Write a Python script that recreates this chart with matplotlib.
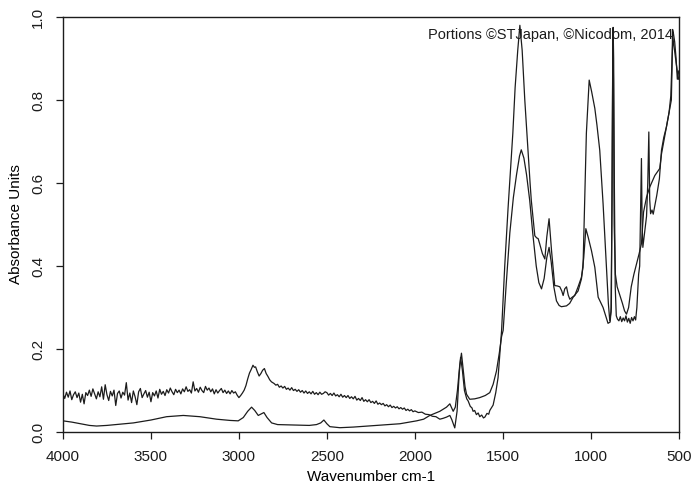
import numpy as np
import matplotlib
matplotlib.use('Agg')
import matplotlib.pyplot as plt

# values: (wavenumber cm-1, absorbance)
trace_noisy = [
    (4000, 0.092), (3990, 0.081), (3980, 0.096), (3970, 0.084), (3960, 0.099), (3950, 0.078),
    (3940, 0.090), (3930, 0.097), (3920, 0.083), (3910, 0.094), (3900, 0.072), (3890, 0.091),
    (3880, 0.068), (3870, 0.095), (3860, 0.088), (3850, 0.101), (3840, 0.086), (3830, 0.104),
    (3820, 0.092), (3810, 0.080), (3800, 0.097), (3790, 0.085), (3780, 0.109), (3770, 0.079),
    (3760, 0.114), (3750, 0.090), (3740, 0.076), (3730, 0.098), (3720, 0.087), (3710, 0.101),
    (3700, 0.064), (3690, 0.093), (3680, 0.099), (3670, 0.082), (3660, 0.096), (3650, 0.089),
    (3640, 0.119), (3630, 0.077), (3620, 0.094), (3610, 0.071), (3600, 0.099), (3590, 0.085),
    (3580, 0.066), (3570, 0.097), (3560, 0.105), (3550, 0.083), (3540, 0.092), (3530, 0.100),
    (3520, 0.084), (3510, 0.096), (3500, 0.073), (3490, 0.095), (3480, 0.087), (3470, 0.099),
    (3460, 0.082), (3450, 0.103), (3440, 0.091), (3430, 0.098), (3420, 0.088), (3410, 0.102),
    (3400, 0.094), (3390, 0.106), (3380, 0.097), (3370, 0.090), (3360, 0.103), (3350, 0.095),
    (3340, 0.101), (3330, 0.092), (3320, 0.104), (3310, 0.097), (3300, 0.109), (3290, 0.098),
    (3280, 0.102), (3270, 0.094), (3260, 0.121), (3250, 0.099), (3240, 0.105), (3230, 0.096),
    (3220, 0.108), (3210, 0.100), (3200, 0.095), (3190, 0.110), (3180, 0.101), (3170, 0.106),
    (3160, 0.097), (3150, 0.104), (3140, 0.092), (3130, 0.102), (3120, 0.094), (3110, 0.100),
    (3100, 0.105), (3090, 0.095), (3080, 0.101), (3070, 0.093), (3060, 0.099), (3050, 0.092),
    (3040, 0.100), (3030, 0.094), (3020, 0.097), (3010, 0.089), (3000, 0.083), (2990, 0.088),
    (2980, 0.094), (2970, 0.101), (2960, 0.112), (2950, 0.128), (2940, 0.142), (2930, 0.151),
    (2920, 0.161), (2912, 0.156), (2905, 0.157), (2895, 0.145), (2885, 0.135), (2875, 0.141),
    (2865, 0.149), (2855, 0.153), (2845, 0.141), (2835, 0.134), (2825, 0.126), (2815, 0.121),
    (2800, 0.117), (2790, 0.113), (2780, 0.115), (2770, 0.108), (2760, 0.111), (2750, 0.106),
    (2740, 0.110), (2730, 0.103), (2720, 0.106), (2710, 0.101), (2700, 0.107), (2690, 0.100),
    (2680, 0.103), (2670, 0.098), (2660, 0.102), (2650, 0.096), (2640, 0.100), (2630, 0.094),
    (2620, 0.099), (2610, 0.093), (2600, 0.097), (2590, 0.092), (2580, 0.098), (2570, 0.091),
    (2560, 0.095), (2550, 0.090), (2540, 0.096), (2530, 0.091), (2520, 0.093), (2510, 0.097),
    (2500, 0.095), (2490, 0.089), (2480, 0.093), (2470, 0.088), (2460, 0.094), (2450, 0.087),
    (2440, 0.090), (2430, 0.085), (2420, 0.091), (2410, 0.084), (2400, 0.088), (2390, 0.083),
    (2380, 0.088), (2370, 0.081), (2360, 0.085), (2350, 0.080), (2340, 0.086), (2330, 0.077),
    (2320, 0.081), (2310, 0.076), (2300, 0.083), (2290, 0.074), (2280, 0.078), (2270, 0.073),
    (2260, 0.078), (2250, 0.071), (2240, 0.074), (2230, 0.069), (2220, 0.075), (2210, 0.067),
    (2200, 0.070), (2190, 0.066), (2180, 0.069), (2170, 0.063), (2160, 0.066), (2150, 0.061),
    (2140, 0.065), (2130, 0.059), (2120, 0.062), (2110, 0.058), (2100, 0.061), (2090, 0.056),
    (2080, 0.059), (2070, 0.055), (2060, 0.058), (2050, 0.052), (2040, 0.055), (2030, 0.051),
    (2020, 0.054), (2010, 0.049), (2000, 0.051), (1980, 0.047), (1960, 0.048), (1940, 0.043),
    (1920, 0.042), (1900, 0.038), (1880, 0.037), (1858, 0.031), (1840, 0.033), (1820, 0.036),
    (1801, 0.040), (1790, 0.030), (1773, 0.010), (1760, 0.050), (1748, 0.140), (1740, 0.180),
    (1730, 0.150), (1718, 0.100), (1705, 0.080), (1697, 0.075), (1685, 0.062), (1675, 0.058),
    (1669, 0.050), (1660, 0.052), (1650, 0.042), (1640, 0.046), (1631, 0.037), (1620, 0.041),
    (1610, 0.034), (1602, 0.036), (1590, 0.045), (1580, 0.043), (1574, 0.052), (1565, 0.058),
    (1555, 0.065), (1540, 0.095), (1527, 0.131), (1507, 0.244), (1489, 0.400), (1470, 0.540),
    (1455, 0.640), (1443, 0.720), (1430, 0.830), (1415, 0.920), (1403, 0.980), (1390, 0.920),
    (1375, 0.800), (1360, 0.700), (1345, 0.600), (1338, 0.558), (1318, 0.473), (1308, 0.468),
    (1299, 0.466), (1290, 0.453), (1275, 0.430), (1261, 0.417), (1250, 0.470), (1237, 0.514),
    (1223, 0.437), (1205, 0.353), (1190, 0.352), (1176, 0.350), (1165, 0.340), (1157, 0.329),
    (1148, 0.345), (1138, 0.350), (1128, 0.330), (1119, 0.320), (1105, 0.325), (1091, 0.329),
    (1072, 0.350), (1053, 0.373), (1044, 0.397), (1035, 0.550), (1025, 0.720), (1009, 0.848),
    (995, 0.820), (977, 0.780), (965, 0.740), (949, 0.679), (930, 0.550), (911, 0.397),
    (900, 0.310), (892, 0.268), (885, 0.290), (879, 0.550), (875, 0.930), (873, 0.975),
    (870, 0.900), (866, 0.600), (861, 0.350), (855, 0.280), (848, 0.272), (840, 0.268),
    (832, 0.278), (824, 0.266), (816, 0.275), (808, 0.268), (800, 0.280), (792, 0.265),
    (784, 0.274), (776, 0.262), (768, 0.276), (760, 0.268), (752, 0.278), (745, 0.270),
    (738, 0.300), (733, 0.340), (728, 0.380), (722, 0.400), (716, 0.550), (712, 0.659),
    (708, 0.500), (704, 0.445), (695, 0.478), (683, 0.520), (676, 0.600), (670, 0.723),
    (665, 0.560), (660, 0.526), (652, 0.535), (645, 0.525), (636, 0.545), (625, 0.570),
    (610, 0.610), (598, 0.679), (585, 0.710), (570, 0.735), (555, 0.770), (542, 0.800),
    (538, 0.880), (535, 0.970), (530, 0.960), (523, 0.940), (515, 0.900), (508, 0.850),
    (500, 0.870),
]

trace_smooth = [
    (4000, 0.027), (3950, 0.024), (3900, 0.020), (3850, 0.016), (3809, 0.0145), (3750, 0.016),
    (3700, 0.018), (3600, 0.022), (3500, 0.029), (3411, 0.037), (3316, 0.040), (3222, 0.037),
    (3127, 0.031), (3050, 0.028), (3004, 0.027), (2975, 0.035), (2950, 0.050), (2928, 0.060),
    (2910, 0.052), (2890, 0.040), (2872, 0.044), (2858, 0.047), (2840, 0.035), (2814, 0.022),
    (2780, 0.018), (2700, 0.017), (2600, 0.016), (2559, 0.018), (2535, 0.022), (2517, 0.029),
    (2500, 0.020), (2483, 0.013), (2426, 0.0105), (2350, 0.012), (2250, 0.015), (2150, 0.018),
    (2085, 0.020), (1990, 0.027), (1950, 0.031), (1915, 0.040), (1858, 0.050), (1820, 0.060),
    (1801, 0.068), (1782, 0.050), (1770, 0.060), (1758, 0.100), (1745, 0.160), (1735, 0.190),
    (1725, 0.150), (1715, 0.110), (1706, 0.091), (1688, 0.079), (1660, 0.080), (1631, 0.083),
    (1600, 0.088), (1574, 0.095), (1555, 0.115), (1536, 0.147), (1520, 0.190), (1507, 0.230),
    (1498, 0.245), (1480, 0.360), (1460, 0.480), (1440, 0.565), (1422, 0.620), (1405, 0.665),
    (1395, 0.680), (1380, 0.660), (1365, 0.620), (1347, 0.558), (1330, 0.480), (1310, 0.400),
    (1295, 0.360), (1280, 0.345), (1265, 0.370), (1250, 0.420), (1237, 0.445), (1225, 0.410),
    (1210, 0.350), (1195, 0.316), (1180, 0.305), (1167, 0.302), (1138, 0.304), (1120, 0.310),
    (1100, 0.325), (1072, 0.340), (1053, 0.369), (1040, 0.420), (1028, 0.490), (1015, 0.470),
    (996, 0.437), (977, 0.397), (958, 0.325), (930, 0.300), (902, 0.262), (890, 0.265),
    (883, 0.300), (878, 0.700), (874, 0.950), (871, 0.850), (867, 0.500), (860, 0.380),
    (850, 0.350), (835, 0.330), (820, 0.310), (808, 0.292), (797, 0.284), (785, 0.300),
    (770, 0.350), (755, 0.380), (740, 0.405), (725, 0.430), (712, 0.454), (700, 0.530),
    (683, 0.566), (665, 0.590), (636, 0.618), (608, 0.635), (598, 0.670), (585, 0.700),
    (570, 0.735), (555, 0.770), (545, 0.810), (538, 0.900), (533, 0.950), (527, 0.930),
    (515, 0.890), (505, 0.860), (500, 0.850),
]

x_ticks = [4000, 3500, 3000, 2500, 2000, 1500, 1000, 500]
y_ticks = [0.0, 0.2, 0.4, 0.6, 0.8, 1.0]

plt.rcParams['font.family'] = ['Liberation Sans', 'DejaVu Sans']

fig = plt.figure(figsize=(6.95, 4.86), dpi=100)
ax = fig.add_axes([0.0906, 0.111, 0.886, 0.854])

wn_n, ab_n = np.array(trace_noisy).T
wn_s, ab_s = np.array(trace_smooth).T
ax.plot(wn_n, ab_n, color='#1c1c1c', linewidth=0.9)
ax.plot(wn_s, ab_s, color='#1c1c1c', linewidth=0.9)

ax.set_xlim(4000, 500)
ax.set_ylim(0, 1.0)
ax.set_xticks(x_ticks)
ax.set_yticks(y_ticks)
ax.set_xticklabels([str(t) for t in x_ticks])
ax.set_yticklabels(['%.1f' % t for t in y_ticks], rotation=90, va='center')
ax.tick_params(direction='out', length=5, width=0.9, labelsize=11, colors='#1c1c1c')
ax.tick_params(axis='x', pad=8)
ax.tick_params(axis='y', pad=8)
for s in ax.spines.values():
    s.set_linewidth(1.0)
    s.set_color('#1c1c1c')

ax.set_xlabel('Wavenumber cm-1', fontsize=11, labelpad=4)
ax.set_ylabel('Absorbance Units', fontsize=11, labelpad=6)
ax.text(0.99, 0.974, 'Portions \u00a9STJapan, \u00a9Nicodom, 2014', transform=ax.transAxes,
        ha='right', va='top', fontsize=10.5, color='#1c1c1c')

fig.savefig('out.png', dpi=100)
